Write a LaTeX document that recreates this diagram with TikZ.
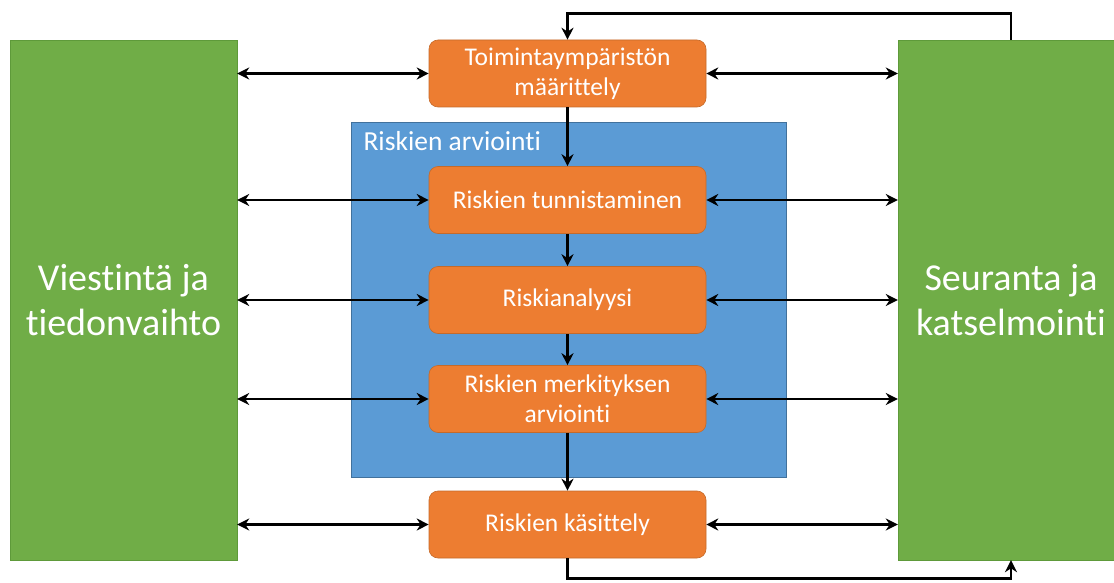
\documentclass[tikz,border=0pt]{standalone}
\usepackage{fontspec}
\setmainfont{Carlito}[Ligatures=NoCommon]
\usetikzlibrary{arrows.meta,positioning}

\definecolor{oranssi}{HTML}{ED7D31}
\definecolor{oranssireuna}{HTML}{C46A2A}
\definecolor{vihrea}{HTML}{70AD47}
\definecolor{vihreareuna}{HTML}{5E9A3A}
\definecolor{sininen}{HTML}{5B9BD5}
\definecolor{sininenreuna}{HTML}{41719C}

\begin{document}
\begin{tikzpicture}[x=1pt,y=-1pt,
    vaihe/.style={fill=oranssi,draw=oranssireuna,line width=0.6pt,rounded corners=9pt,
        minimum width=277pt,minimum height=67pt,inner sep=0pt,align=center,text=white,
        font=\fontsize{25.5}{30}\selectfont},
    reuna/.style={fill=vihrea,draw=vihreareuna,line width=0.4pt,minimum width=227pt,
        minimum height=520pt,inner sep=0pt,align=center,text=white,
        font=\fontsize{38}{45}\selectfont},
    nuoli/.style={line width=2.8pt,-{Stealth[length=12pt,width=12pt]}},
    nuoli2/.style={line width=2.8pt,{Stealth[length=12pt,width=12pt]}-{Stealth[length=12pt,width=12pt]}}]
    \useasboundingbox (0,0) rectangle (1114,583);
    \clip (0,0) rectangle (1114,583);

    \node[fill=sininen,draw=sininenreuna,line width=0.6pt,minimum width=435pt,minimum height=355pt] (arvio) at (568.5,299.5) {};
    \node[anchor=base west,text=white,font=\fontsize{27.5}{33}\selectfont] (arvioteksti) at (360,150) {Riskien arviointi};

    \node[reuna] (viest) at (123.5,300) {Viestintä ja\\tiedonvaihto};
    \node[reuna,minimum width=226pt] (seur) at (1011,300) {Seuranta ja\\katselmointi};

    \node[vaihe] (maar) at (567.5,73.5) {Toimintaympäristön\\määrittely};
    \node[vaihe] (tunn) at (567.5,200) {Riskien tunnistaminen};
    \node[vaihe] (anal) at (567.5,300) {Riskianalyysi};
    \node[vaihe] (merk) at (567.5,399) {Riskien merkityksen\\arviointi};
    \node[vaihe] (kasit) at (567.5,524.5) {Riskien käsittely};

    \foreach \v in {maar,tunn,anal,merk,kasit} {
        \draw[nuoli2] (viest.east |- \v) -- (\v);
        \draw[nuoli2] (\v) -- (seur.west |- \v);
    }

    \foreach \from/\to in {maar/tunn,tunn/anal,anal/merk,merk/kasit}
        \draw[nuoli] (\from) -- (\to);

    \draw[nuoli] (seur.north) -- ++(0,-26) -| (maar.north);
    \draw[nuoli] (kasit.south) -- ++(0,20) -| (seur.south);
\end{tikzpicture}
\end{document}
